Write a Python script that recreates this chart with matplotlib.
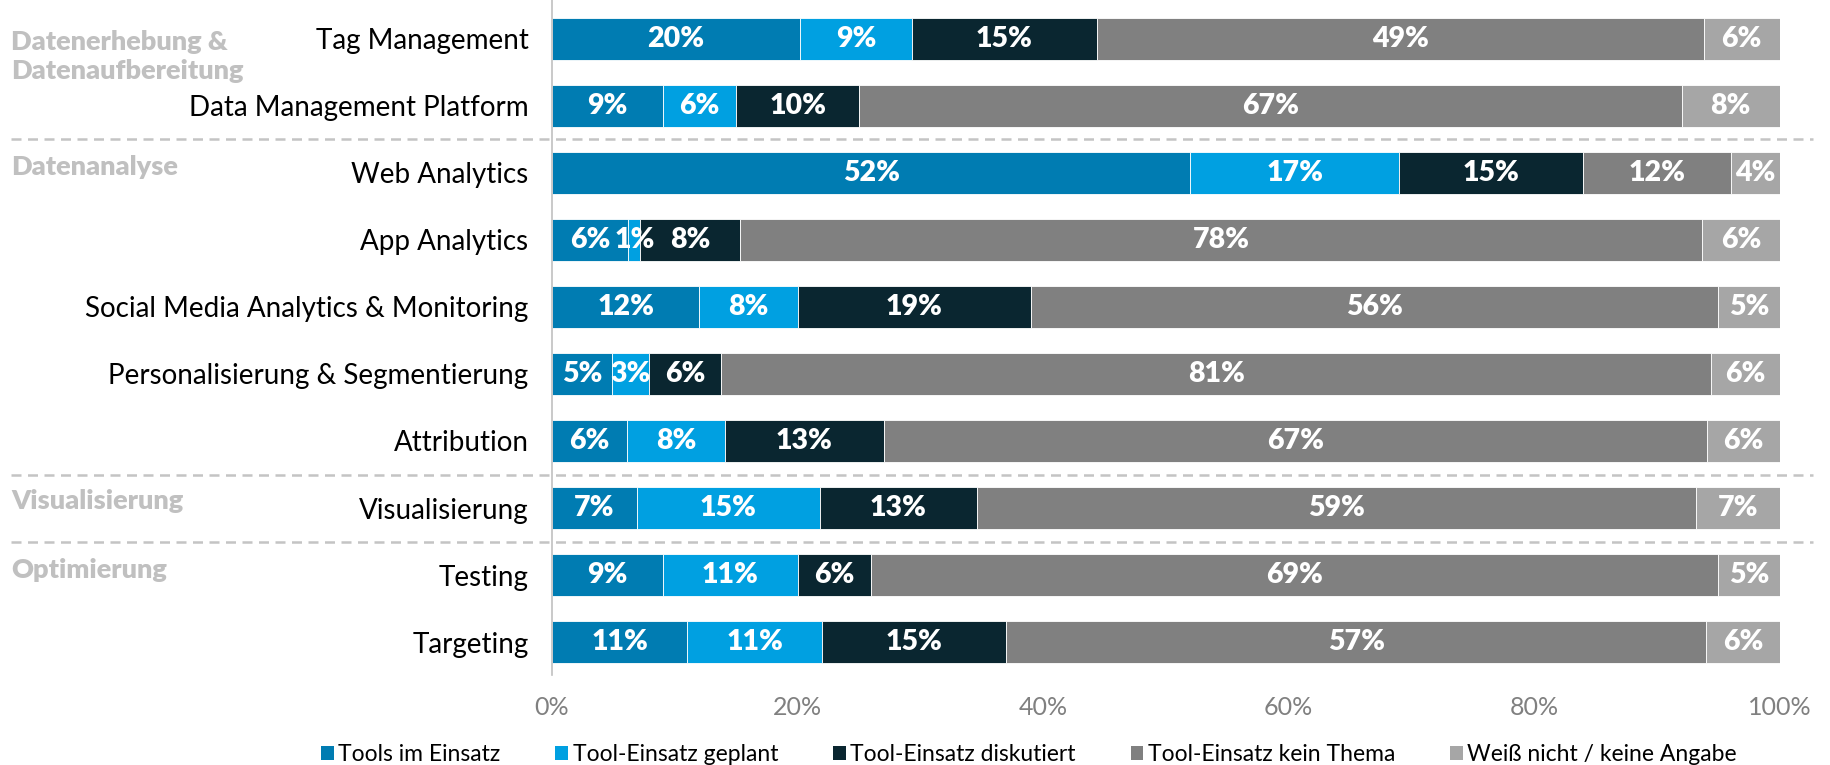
import matplotlib
matplotlib.use("Agg")
import matplotlib.pyplot as plt
import matplotlib.transforms as mtransforms
from matplotlib.patches import Patch

plt.rcParams['font.family'] = ['Lato', 'DejaVu Sans']

categories = [
    "Tag Management",
    "Data Management Platform",
    "Web Analytics",
    "App Analytics",
    "Social Media Analytics & Monitoring",
    "Personalisierung & Segmentierung",
    "Attribution",
    "Visualisierung",
    "Testing",
    "Targeting",
]

series_names = [
    "Tools im Einsatz",
    "Tool-Einsatz geplant",
    "Tool-Einsatz diskutiert",
    "Tool-Einsatz kein Thema",
    "Weiß nicht / keine Angabe",
]

im_einsatz = [20.2, 9.0, 52.0, 6.2, 12.0, 4.9, 6.1, 6.9, 9.0, 11.0]
geplant = [9.1, 6.0, 17.0, 1.0, 8.0, 3.0, 8.0, 14.9, 11.0, 11.0]
diskutiert = [15.1, 10.0, 15.0, 8.1, 19.0, 5.9, 12.9, 12.8, 6.0, 15.0]
kein_thema = [49.4, 67.0, 12.0, 78.4, 56.0, 80.6, 67.1, 58.6, 69.0, 57.0]
weiss_nicht = [6.2, 8.0, 4.0, 6.3, 5.0, 5.6, 5.9, 6.8, 5.0, 6.0]

colors = ["#007cb2", "#00a0e1", "#0a2630", "#808080", "#a6a6a6"]

# group headings: (text, index of row, offset)
groups = [
    ("Datenerhebung &\nDatenaufbereitung", 0, 0.26),
    ("Datenanalyse", 2, -0.08),
    ("Visualisierung", 7, -0.11),
    ("Optimierung", 8, -0.07),
]
separators = [1.5, 6.5, 7.5]

fig = plt.figure(figsize=(18.31, 7.65), dpi=100)
ax = fig.add_axes([0.3015, 0.1176, 0.6705, 0.8824])

series = [im_einsatz, geplant, diskutiert, kein_thema, weiss_nicht]
y = list(range(len(categories)))
left = [0.0] * len(categories)
for name, vals, col in zip(series_names, series, colors):
    ax.barh(y, vals, left=left, height=0.625, color=col,
            edgecolor="white", linewidth=0.6)
    for i, v in enumerate(vals):
        ax.text(left[i] + v / 2, i, f"{round(v)}%", ha="center", va="center",
                color="white", fontsize=20.5, fontweight="heavy")
    left = [a + b for a, b in zip(left, vals)]

ax.set_xlim(0, 100)
ax.set_ylim(9.49, -0.575)
ax.set_yticks(y)
ax.set_yticklabels(categories, fontsize=20, color="black")
ax.set_xticks([0, 20, 40, 60, 80, 100])
ax.set_xticklabels([f"{t}%" for t in [0, 20, 40, 60, 80, 100]],
                   fontsize=18, color="#808080")
ax.tick_params(axis="both", length=0)
ax.tick_params(axis="y", pad=17)
ax.tick_params(axis="x", pad=15)
for s in ["top", "right", "bottom"]:
    ax.spines[s].set_visible(False)
ax.spines["left"].set_color("#c0c0c0")
ax.spines["left"].set_linewidth(1.2)

trans = mtransforms.blended_transform_factory(fig.transFigure, ax.transData)
for yy in separators:
    ax.plot([0.006, 0.99], [yy, yy], transform=trans, clip_on=False,
            color="#c4c4c4", linewidth=1.8, linestyle=(0, (4, 2.6)))
for txt, idx, off in groups:
    ax.text(0.006, idx + off, txt, transform=trans, ha="left", va="center",
            fontsize=19.5, fontweight="heavy", color="#c0c0c0", linespacing=1.25)

handles = [Patch(facecolor=c, edgecolor="none") for c in colors]
fig.legend(handles, series_names, loc="center", bbox_to_anchor=(0.562, 0.014),
           ncol=5, frameon=False, handlelength=0.55, handleheight=0.55,
           handletextpad=0.2, columnspacing=2.4,
           prop={"family": ["Lato", "DejaVu Sans"], "size": 16.5})

fig.savefig("out.png", dpi=100)
